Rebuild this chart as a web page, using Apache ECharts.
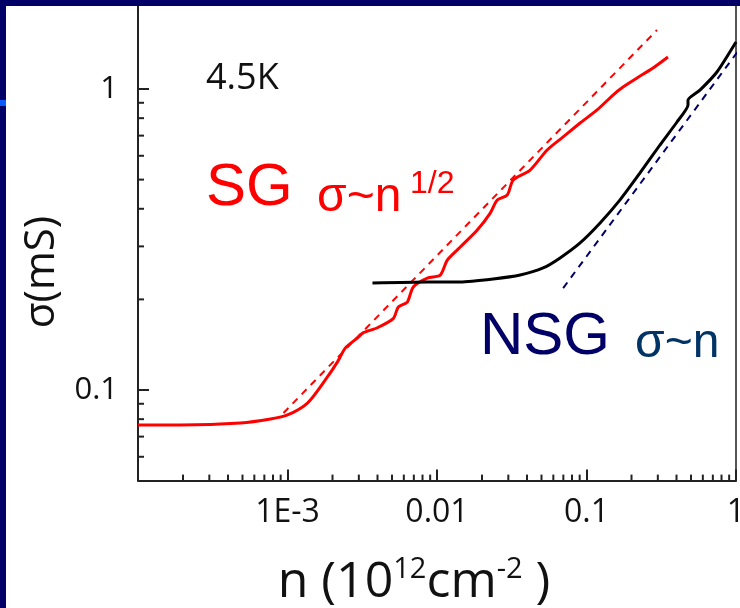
<!DOCTYPE html>
<html>
<head>
<meta charset="utf-8">
<script src="https://cdn.jsdelivr.net/npm/echarts@6/dist/echarts.min.js"></script>
<style>
html,body{margin:0;padding:0;background:#fff;}
#chart{width:740px;height:608px;}
</style>
</head>
<body>
<div id="chart"></div>
<script>
// ---- data ----
const sgN = [1.0e-4, 1.93e-4, 4.85e-4, 7.7e-4, 1.0e-3, 1.36e-3, 1.79e-3, 2.16e-3, 2.44e-3, 2.94e-3, 3.22e-3, 3.99e-3, 5.11e-3, 5.51e-3, 6.33e-3, 6.94e-3, 8.61e-3, 0.01052, 0.01172, 0.01431, 0.01859, 0.0227, 0.02528, 0.0295, 0.03233, 0.042, 0.05455, 0.0698, 0.0906, 0.1177, 0.1505, 0.1756, 0.2178, 0.2786, 0.3509];
const sgSigma = [0.0765, 0.0765, 0.0777, 0.0801, 0.0826, 0.0905, 0.108, 0.124, 0.138, 0.149, 0.155, 0.161, 0.173, 0.1887, 0.196, 0.220, 0.2355, 0.241, 0.2703, 0.2986, 0.340, 0.387, 0.428, 0.4445, 0.4984, 0.538, 0.627, 0.693, 0.771, 0.852, 0.955, 1.015, 1.088, 1.174, 1.277];

const nsgN = [3.70e-3, 8.61e-3, 0.01431, 0.02377, 0.036, 0.0513, 0.0666, 0.0906, 0.1233, 0.1676, 0.228, 0.310, 0.4029, 0.4774, 0.4774, 0.574, 0.7455, 1.0];
const nsgSigma = [0.2267, 0.2285, 0.2285, 0.2338, 0.241, 0.2543, 0.2746, 0.3079, 0.3587, 0.428, 0.526, 0.6516, 0.777, 0.885, 0.919, 0.992, 1.139, 1.433];

const sgFitN = [9.4e-4, 0.296];
const sgFitSigma = [0.0839, 1.57];
const nsgFitN = [0.0698, 1.03];
const nsgFitSigma = [0.218, 1.335];

const X_MIN = 1e-4, X_MAX = 1;
const Y_MIN = 0.05, Y_MAX = 2;

const xTickLabels = {"-3": "1E-3", "-2": "0.01", "-1": "0.1", "0": "1"};
const yTickLabels = {"-1": "0.1", "0": "1"};

const xMinorTicks = [2e-4,3e-4,4e-4,5e-4,6e-4,7e-4,8e-4,9e-4,
                     2e-3,3e-3,4e-3,5e-3,6e-3,7e-3,8e-3,9e-3,
                     0.02,0.03,0.04,0.05,0.06,0.07,0.08,0.09,
                     0.2,0.3,0.4,0.5,0.6,0.7,0.8,0.9];
const yMinorTicks = [0.06,0.07,0.08,0.09,0.2,0.3,0.4,0.5,0.6,0.7,0.8,0.9];

// ---- chart ----
const zip = (a, b) => a.map((v, i) => [v, b[i]]);
const AXIS_COLOR = '#222';
const FONT = '"Open Sans", "Noto Sans", sans-serif';
const ARIAL = '"Liberation Sans", Arial, sans-serif';

const chart = echarts.init(document.getElementById('chart'), null, {renderer: 'canvas'});

function minorTickX(params, api) {
  const p = api.coord([api.value(0), api.value(1)]);
  return {type: 'line', shape: {x1: p[0], y1: p[1], x2: p[0], y2: p[1] - 6},
          style: {stroke: AXIS_COLOR, lineWidth: 2}};
}
function minorTickY(params, api) {
  const p = api.coord([api.value(0), api.value(1)]);
  return {type: 'line', shape: {x1: p[0], y1: p[1], x2: p[0] + 6, y2: p[1]},
          style: {stroke: AXIS_COLOR, lineWidth: 2}};
}

const option = {
  backgroundColor: '#ffffff',
  animation: false,
  grid: {left: 138, right: 4, top: -1.6, bottom: 127.4, containLabel: false, outerBoundsMode: 'none'},
  xAxis: {
    type: 'log', logBase: 10, min: X_MIN, max: X_MAX,
    axisLine: {show: true, lineStyle: {color: AXIS_COLOR, width: 2}},
    axisTick: {show: true, inside: true, length: 11, lineStyle: {color: AXIS_COLOR, width: 2}},
    splitLine: {show: false},
    axisLabel: {
      show: true, margin: 16, color: '#111', fontFamily: FONT, fontSize: 32,
      showMinLabel: true, showMaxLabel: true, hideOverlap: false,
      formatter: v => { const k = String(Math.round(Math.log10(v))); return xTickLabels[k] || ''; }
    }
  },
  yAxis: [{
    type: 'log', logBase: 10, min: Y_MIN, max: Y_MAX,
    axisLine: {show: true, lineStyle: {color: AXIS_COLOR, width: 2}},
    axisTick: {show: true, inside: true, length: 11, lineStyle: {color: AXIS_COLOR, width: 2}},
    splitLine: {show: false},
    axisLabel: {
      show: true, margin: 20, color: '#111', fontFamily: FONT, fontSize: 31,
      formatter: v => { const l = Math.log10(v); const r = Math.round(l);
        if (Math.abs(l - r) > 1e-6) return ''; return yTickLabels[String(r)] || ''; }
    }
  }, {
    type: 'log', logBase: 10, min: Y_MIN, max: Y_MAX, position: 'right',
    axisLine: {show: true, lineStyle: {color: '#555', width: 2}},
    axisTick: {show: false}, axisLabel: {show: false}, splitLine: {show: false}
  }],
  series: [
    {type: 'custom', renderItem: minorTickX, clip: false, silent: true,
     data: xMinorTicks.map(v => [v, Y_MIN]), z: 5},
    {type: 'custom', renderItem: minorTickY, clip: false, silent: true,
     data: yMinorTicks.map(v => [X_MIN, v]), z: 5},
    {name: 'SG fit', type: 'line', data: zip(sgFitN, sgFitSigma), showSymbol: false, symbol: 'none',
     lineStyle: {color: '#ff0000', width: 2, type: [7, 6]}, z: 3},
    {name: 'NSG fit', type: 'line', data: zip(nsgFitN, nsgFitSigma), showSymbol: false, symbol: 'none', clip: false,
     lineStyle: {color: '#000066', width: 2, type: [7, 6]}, z: 3},
    {name: 'SG', type: 'line', data: zip(sgN, sgSigma), showSymbol: false, symbol: 'none', smooth: 0.25,
     lineStyle: {color: '#ff0000', width: 3}, z: 4},
    {name: 'NSG', type: 'line', data: zip(nsgN, nsgSigma), showSymbol: false, symbol: 'none', smooth: 0.2,
     lineStyle: {color: '#000000', width: 3}, z: 4}
  ],
  graphic: [
    {type: 'text', x: 206, y: 79, z: 10, style: {text: '4.5K', font: '36px ' + FONT, fill: '#111', align: 'left', verticalAlign: 'middle'}},
    {type: 'text', x: 206, y: 188, z: 10, style: {text: 'SG', font: '60px ' + ARIAL, fill: '#ff0000', align: 'left', verticalAlign: 'middle'}},
    {type: 'text', x: 317, y: 198, z: 10, style: {text: 'σ~n', font: '48px ' + ARIAL, fill: '#ff0000', align: 'left', verticalAlign: 'middle'}},
    {type: 'text', x: 410, y: 184, z: 10, style: {text: '1/2', font: '32px ' + ARIAL, fill: '#ff0000', align: 'left', verticalAlign: 'middle'}},
    {type: 'text', x: 480, y: 337, z: 10, style: {text: 'NSG', font: '60px ' + ARIAL, fill: '#000066', align: 'left', verticalAlign: 'middle'}},
    {type: 'text', x: 635, y: 344, z: 10, style: {text: 'σ~n', font: '48px ' + ARIAL, fill: '#003366', align: 'left', verticalAlign: 'middle'}},
    {type: 'text', x: 42, y: 272, rotation: Math.PI / 2, z: 10,
     style: {text: 'σ(mS)', font: '42px ' + FONT, fill: '#111', align: 'center', verticalAlign: 'middle'}},
    {type: 'text', x: 414, y: 583, z: 10,
     style: {
       text: '{m|n (10}{s|12}{m|cm}{s|-2}{m| )}', align: 'center', verticalAlign: 'middle',
       rich: {
         m: {fontFamily: FONT, fontSize: 50, fill: '#111', color: '#111'},
         s: {fontFamily: FONT, fontSize: 29, fill: '#111', color: '#111', padding: [0, 0, 27, 0]}
       }
     }},
    {type: 'rect', z: 20, shape: {x: 0, y: 0, width: 740, height: 6}, style: {fill: '#000066'}},
    {type: 'rect', z: 20, shape: {x: 0, y: 0, width: 6, height: 608}, style: {fill: '#000066'}},
    {type: 'rect', z: 21, shape: {x: 0, y: 100, width: 6, height: 6}, style: {fill: '#0a5cff'}}
  ]
};
chart.setOption(option);
</script>
</body>
</html>
